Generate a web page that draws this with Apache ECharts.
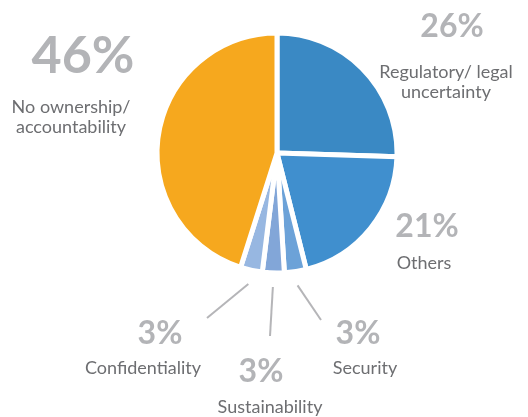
<!DOCTYPE html>
<html>
<head>
<meta charset="utf-8">
<script src="https://cdn.jsdelivr.net/npm/echarts@6/dist/echarts.min.js"></script>
<style>
  html, body { margin: 0; padding: 0; background: #fff; }
  #chart { width: 528px; height: 417px; }
</style>
</head>
<body>
<div id="chart"></div>
<script>
// slices, clockwise from 12 o'clock
const names = ['Regulatory/ legal\nuncertainty', 'Others', 'Security', 'Sustainability', 'Confidentiality', 'No ownership/\naccountability'];
const values = [26, 21, 3, 3, 3, 46];
const colors = ['#3a89c4', '#408fce', '#6ca2d8', '#82a6d8', '#97b7e1', '#f6a81e'];

// label layout: [text centre x, percent centre y], percent x shift, line end offset from percent centre
const labelPos = [[446, 27], [424, 227], [365, 334], [270, 372], [143, 334], [71, 56]];
const pctShift = [6, 3, -7, -9, 17, 12];
const pctFont = [32, 32, 32, 32, 32, 52];
const pctLineH = [70, 52, 48, 50, 48, 82];
const lineEnd = [null, null, [-37, -14], [9, -36], [47, -16], null];

const cx = 277, cy = 153, r = 120;

const rich = { n: { fontSize: 18, color: '#6d6e71', lineHeight: 20, align: 'center', fontFamily: 'Lato' } };
values.forEach(function (v, i) {
  const s = pctShift[i];
  rich['p' + i] = {
    fontSize: pctFont[i], fontWeight: 'bold', color: '#b3b4b7', fontFamily: 'Lato',
    lineHeight: pctLineH[i], align: 'center',
    padding: s >= 0 ? [0, 0, 0, 2 * s] : [0, -2 * s, 0, 0]
  };
});

const data = values.map(function (v, i) {
  const item = { name: names[i], value: v, itemStyle: { color: colors[i] } };
  if (!lineEnd[i]) item.labelLine = { show: false };
  return item;
});

const chart = echarts.init(document.getElementById('chart'));
chart.setOption({
  animation: false,
  series: [{
    type: 'pie',
    center: [cx, cy],
    radius: r,
    startAngle: 90,
    clockwise: true,
    avoidLabelOverlap: false,
    itemStyle: { borderColor: '#fff', borderWidth: 5 },
    label: {
      show: true,
      position: 'outside',
      rich: rich,
      formatter: function (p) {
        return '{p' + p.dataIndex + '|' + p.value + '%}\n{n|' + p.name + '}';
      }
    },
    labelLine: { show: true, length: 10, length2: 0, lineStyle: { color: '#b5b5b8', width: 2 } },
    emphasis: { disabled: true },
    labelLayout: function (params) {
      const i = params.dataIndex;
      const pos = labelPos[i];
      const out = { x: pos[0], y: pos[1] - pctLineH[i] / 2, align: 'center', verticalAlign: 'top' };
      if (lineEnd[i] && params.labelLinePoints) {
        const p0 = params.labelLinePoints[0];
        const dx = p0[0] - cx, dy = p0[1] - cy;
        const k = (r + 14) / Math.sqrt(dx * dx + dy * dy);
        out.labelLinePoints = [
          [cx + dx * k, cy + dy * k],
          [pos[0] + pctShift[i] + lineEnd[i][0], pos[1] + lineEnd[i][1]]
        ];
      }
      return out;
    },
    data: data
  }]
});
</script>
</body>
</html>
